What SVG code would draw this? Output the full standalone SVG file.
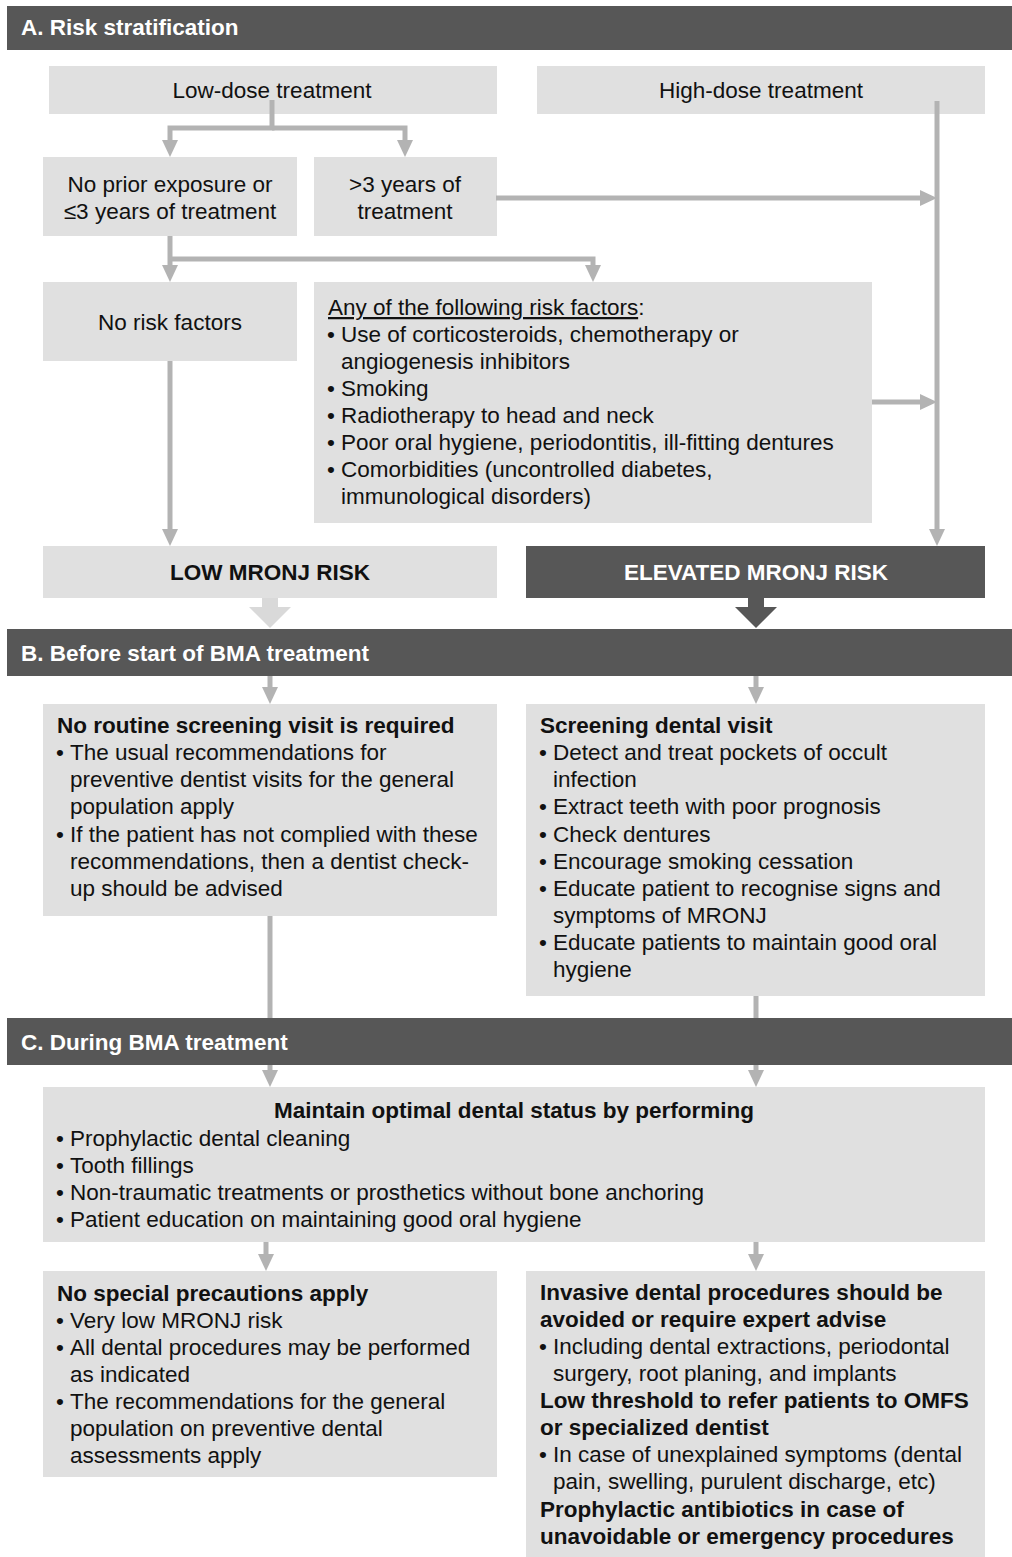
<svg xmlns="http://www.w3.org/2000/svg" width="1012" height="1557" viewBox="0 0 1012 1557">
<defs>
<style>
text{font-family:"Liberation Sans",Arial,sans-serif;font-size:22.5px;fill:#111}
.b{font-weight:bold}
.w{fill:#fff}
.c{text-anchor:middle}
.box{fill:#e0e0e0}
.dark{fill:#575757}
.con path{fill:none;stroke:#b3b3b3;stroke-width:5;marker-end:url(#ah)}
.con path.n{marker-end:none}
</style>
<marker id="ah" markerUnits="userSpaceOnUse" markerWidth="18" markerHeight="16" refX="11" refY="8" orient="auto" viewBox="0 0 18 16">
<path d="M0,0 L17,8 L0,16 z" fill="#b3b3b3"/>
</marker>
</defs>
<rect width="1012" height="1557" fill="#fff"/>

<g id="headerA"><rect class="dark" x="7" y="6" width="1005" height="44"/><text class="b w" x="21" y="35">A. Risk stratification</text></g>
<g id="headerB"><rect class="dark" x="7" y="629" width="1005" height="47"/><text class="b w" x="21" y="661">B. Before start of BMA treatment</text></g>
<g id="headerC"><rect class="dark" x="7" y="1018" width="1005" height="47"/><text class="b w" x="21" y="1050">C. During BMA treatment</text></g>

<g id="lowdose"><rect class="box" x="49" y="66" width="448" height="48"/><text class="c" x="272" y="98">Low-dose treatment</text></g>
<g id="highdose"><rect class="box" x="537" y="66" width="448" height="48"/><text class="c" x="761" y="98">High-dose treatment</text></g>
<g id="noprior"><rect class="box" x="43" y="157" width="254" height="79"/><text class="c" x="170" y="192">No prior exposure or</text><text class="c" x="170" y="219">≤3 years of treatment</text></g>
<g id="over3"><rect class="box" x="314" y="157" width="183" height="79"/><text class="c" x="405" y="192">&gt;3 years of</text><text class="c" x="405" y="219">treatment</text></g>
<g id="norisk"><rect class="box" x="43" y="282" width="254" height="79"/><text class="c" x="170" y="330">No risk factors</text></g>
<g id="riskfactors"><rect class="box" x="314" y="282" width="558" height="241"/>
<text x="328" y="315"><tspan text-decoration="underline">Any of the following risk factors</tspan>:</text>
<text x="327" y="342">•</text><text x="341" y="342">Use of corticosteroids, chemotherapy or</text>
<text x="341" y="369">angiogenesis inhibitors</text>
<text x="327" y="396">•</text><text x="341" y="396">Smoking</text>
<text x="327" y="423">•</text><text x="341" y="423">Radiotherapy to head and neck</text>
<text x="327" y="450">•</text><text x="341" y="450">Poor oral hygiene, periodontitis, ill-fitting dentures</text>
<text x="327" y="477">•</text><text x="341" y="477">Comorbidities (uncontrolled diabetes,</text>
<text x="341" y="504">immunological disorders)</text>
</g>
<g id="lowrisk"><rect class="box" x="43" y="546" width="454" height="52"/><text class="b c" x="270" y="580">LOW MRONJ RISK</text></g>
<g id="elevatedrisk"><rect class="dark" x="526" y="546" width="459" height="52"/><text class="b c w" x="756" y="580">ELEVATED MRONJ RISK</text></g>

<g id="noscreening"><rect class="box" x="43" y="704" width="454" height="212"/>
<text class="b" x="57" y="733">No routine screening visit is required</text>
<text x="56" y="760">•</text><text x="70" y="760">The usual recommendations for</text>
<text x="70" y="787">preventive dentist visits for the general</text>
<text x="70" y="814">population apply</text>
<text x="56" y="842">•</text><text x="70" y="842">If the patient has not complied with these</text>
<text x="70" y="869">recommendations, then a dentist check-</text>
<text x="70" y="896">up should be advised</text>
</g>
<g id="screening"><rect class="box" x="526" y="704" width="459" height="292"/>
<text class="b" x="540" y="733">Screening dental visit</text>
<text x="539" y="760">•</text><text x="553" y="760">Detect and treat pockets of occult</text>
<text x="553" y="787">infection</text>
<text x="539" y="814">•</text><text x="553" y="814">Extract teeth with poor prognosis</text>
<text x="539" y="842">•</text><text x="553" y="842">Check dentures</text>
<text x="539" y="869">•</text><text x="553" y="869">Encourage smoking cessation</text>
<text x="539" y="896">•</text><text x="553" y="896">Educate patient to recognise signs and</text>
<text x="553" y="923">symptoms of MRONJ</text>
<text x="539" y="950">•</text><text x="553" y="950">Educate patients to maintain good oral</text>
<text x="553" y="977">hygiene</text>
</g>

<g id="maintain"><rect class="box" x="43" y="1087" width="942" height="155"/>
<text class="b c" x="514" y="1118">Maintain optimal dental status by performing</text>
<text x="56" y="1146">•</text><text x="70" y="1146">Prophylactic dental cleaning</text>
<text x="56" y="1173">•</text><text x="70" y="1173">Tooth fillings</text>
<text x="56" y="1200">•</text><text x="70" y="1200">Non-traumatic treatments or prosthetics without bone anchoring</text>
<text x="56" y="1227">•</text><text x="70" y="1227">Patient education on maintaining good oral hygiene</text>
</g>
<g id="noprecautions"><rect class="box" x="43" y="1271" width="454" height="206"/>
<text class="b" x="57" y="1301">No special precautions apply</text>
<text x="56" y="1328">•</text><text x="70" y="1328">Very low MRONJ risk</text>
<text x="56" y="1355">•</text><text x="70" y="1355">All dental procedures may be performed</text>
<text x="70" y="1382">as indicated</text>
<text x="56" y="1409">•</text><text x="70" y="1409">The recommendations for the general</text>
<text x="70" y="1436">population on preventive dental</text>
<text x="70" y="1463">assessments apply</text>
</g>
<g id="invasive"><rect class="box" x="526" y="1271" width="459" height="286"/>
<text class="b" x="540" y="1300">Invasive dental procedures should be</text>
<text class="b" x="540" y="1327">avoided or require expert advise</text>
<text x="539" y="1354">•</text><text x="553" y="1354">Including dental extractions, periodontal</text>
<text x="553" y="1381">surgery, root planing, and implants</text>
<text class="b" x="540" y="1408">Low threshold to refer patients to OMFS</text>
<text class="b" x="540" y="1435">or specialized dentist</text>
<text x="539" y="1462">•</text><text x="553" y="1462">In case of unexplained symptoms (dental</text>
<text x="553" y="1489">pain, swelling, purulent discharge, etc)</text>
<text class="b" x="540" y="1517">Prophylactic antibiotics in case of</text>
<text class="b" x="540" y="1544">unavoidable or emergency procedures</text>
</g>

<g id="connectors" class="con">
<path d="M272,100 V128 H170 V151"/>
<path d="M272,128 H405 V151"/>
<path d="M170,236 V276"/>
<path d="M170,259 H593 V276"/>
<path d="M496,198 H931"/>
<path d="M937,101 V540"/>
<path d="M872,402 H931"/>
<path d="M170,361 V540"/>
<polygon points="262,598 278,598 278,607 291,607 270,628 249,607 262,607" fill="#d9d9d9"/>
<polygon points="748,598 764,598 764,607 777,607 756,628 735,607 748,607" fill="#575757"/>
<path d="M270,676 V698"/>
<path d="M756,676 V698"/>
<path class="n" d="M270,916 V1018"/>
<path class="n" d="M756,996 V1018"/>
<path d="M270,1065 V1081"/>
<path d="M756,1065 V1081"/>
<path d="M266,1242 V1265"/>
<path d="M756,1242 V1265"/>
</g>
</svg>
